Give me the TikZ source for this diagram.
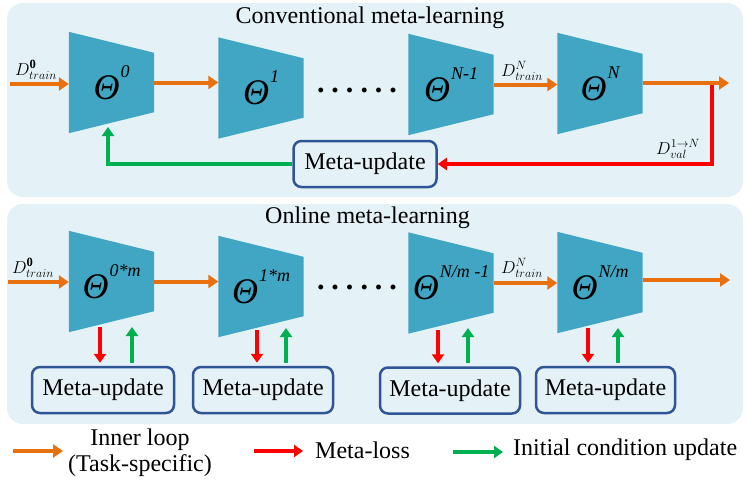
\documentclass[tikz,border=0pt]{standalone}
\usepackage{fontspec}
\setmainfont{Liberation Serif}
\usetikzlibrary{arrows.meta,calc}
\definecolor{panelc}{HTML}{E4F1F6}
\definecolor{trapc}{HTML}{41A6C4}
\definecolor{orar}{HTML}{E8700F}
\definecolor{redar}{HTML}{FF0000}
\definecolor{grar}{HTML}{00B050}
\definecolor{boxb}{HTML}{2F5597}
\pgfdeclarelayer{panellayer}
\pgfdeclarelayer{shapelayer}
\pgfsetlayers{panellayer,shapelayer,main}
\newcommand{\Th}[1]{{\fontsize{36}{36}\selectfont\itshape Θ\kern1pt\raisebox{22pt}{\fontsize{18}{18}\selectfont #1}}}
\newcommand{\trapfill}[1]{\begin{pgfonlayer}{shapelayer}\fill[trapc] (#1.north west) -- ([yshift=-21pt]#1.north east) -- ([yshift=21pt]#1.south east) -- (#1.south west) -- cycle;\end{pgfonlayer}}
\tikzset{
  trapbox/.style={minimum width=85pt, minimum height=101pt, inner sep=0pt},
  orarr/.style={draw=orar, line width=4pt, -{Triangle[length=10pt,width=13pt]}},
  redarr/.style={draw=redar, line width=3.5pt, -{Triangle[length=9pt,width=12pt]}},
  grarr/.style={draw=grar, line width=3.5pt, -{Triangle[length=9pt,width=12pt]}},
  mubox/.style={draw=boxb, line width=2.5pt, rounded corners=8pt, fill=panelc, minimum height=46pt, inner sep=0pt, font=\fontsize{24}{24}\selectfont},
  titletxt/.style={anchor=base, font=\fontsize{24}{24}\selectfont},
  dlab/.style={font=\fontsize{18}{18}\selectfont, inner sep=0pt},
  dots/.style={anchor=base, font=\fontsize{30}{30}\selectfont\bfseries, inner sep=0pt},
  legtxt/.style={font=\fontsize{24}{26}\selectfont, inner sep=0pt}
}
\begin{document}
\begin{tikzpicture}[x=1pt,y=-1pt]
\useasboundingbox (0,0) rectangle (749,483);
\begin{pgfonlayer}{panellayer}
\fill[panelc, rounded corners=16pt] (7,3) rectangle (743,197);
\fill[panelc, rounded corners=16pt] (7,204) rectangle (743,424);
\end{pgfonlayer}

% ---------- Conventional meta-learning ----------
\node[titletxt] (title1) at (370,23) {Conventional meta-learning};
\node[trapbox] (t0) at (111.5,82.5) {\Th{0}};
\node[trapbox] (t1) at (261,88) {\Th{1}};
\node[trapbox] (tn1) at (451,84.5) {\Th{N-1}};
\node[trapbox] (tn) at (600,83.5) {\Th{N}};
\trapfill{t0}\trapfill{t1}\trapfill{tn1}\trapfill{tn}
\node[dots] (dots1) at (357,92) {.\kern7pt.\kern7pt.\kern7pt.\kern7pt.\kern7pt.};

\node[mubox, minimum width=143pt] (mu0) at (365,164) {Meta-update};

\coordinate (in0) at (10,84);
\coordinate (out0) at (729,83);
\coordinate (sp) at (712,83);
\coordinate (gt) at (108,127);
\draw[redarr] (sp) -- (sp |- mu0.east) -- (mu0.east);
\draw[grarr] (mu0.west) -| (gt);
\draw[orarr] (in0) -- (in0 -| t0.west);
\draw[orarr] (t0.east) -- (t0.east -| t1.west);
\draw[orarr] (tn1.east) -- (tn1.east -| tn.west);
\draw[orarr] (tn.east |- out0) -- (out0);
\node[dlab] (d0) at (36,70) {$D^{\mathbf{0}}_{train}$};
\node[dlab] (dn) at (522,71) {$D^{N}_{train}$};
\node[dlab] (dv) at (678,149) {$D^{1\to N}_{val}$};

% ---------- Online meta-learning ----------
\node[titletxt] (title2) at (367.5,223) {Online meta-learning};
\node[trapbox] (m0) at (111.5,281.5) {\Th{0*m}};
\node[trapbox] (m1) at (261,286.5) {\Th{1*m}};
\node[trapbox] (mn1) at (451,283) {\Th{N/m -1}};
\node[trapbox] (mn) at (600,282.5) {\Th{N/m}};
\trapfill{m0}\trapfill{m1}\trapfill{mn1}\trapfill{mn}
\node[dots] (dots2) at (357,289) {.\kern7pt.\kern7pt.\kern7pt.\kern7pt.\kern7pt.};

\node[mubox, minimum width=142pt] (mu1) at (103,390) {Meta-update};
\node[mubox, minimum width=140pt] (mu2) at (263,390) {Meta-update};
\node[mubox, minimum width=140pt] (mu3) at (450,390.5) {Meta-update};
\node[mubox, minimum width=139pt] (mu4) at (605.5,390) {Meta-update};

\coordinate (in1) at (8,282);
\coordinate (out1) at (730,280);
\draw[orarr] (in1) -- (in1 -| m0.west);
\draw[orarr] (m0.east) -- (m0.east -| m1.west);
\draw[orarr] (mn1.east) -- (mn1.east -| mn.west);
\draw[orarr] (mn.east |- out1) -- (out1);
\node[dlab] (d0b) at (33,268) {$D^{\mathbf{0}}_{train}$};
\node[dlab] (dnb) at (522,268) {$D^{N}_{train}$};

\coordinate (r1) at (100,327);
\coordinate (g1) at (132,327);
\coordinate (r2) at (257,330);
\coordinate (g2) at (286,328);
\coordinate (r3) at (438,330);
\coordinate (g3) at (468,328);
\coordinate (r4) at (588,328);
\coordinate (g4) at (618,328);
\draw[redarr, shorten >=3pt] (r1) -- (r1 |- mu1.north);
\draw[grarr, shorten <=3pt] (g1 |- mu1.north) -- (g1);
\draw[redarr, shorten >=3pt] (r2) -- (r2 |- mu2.north);
\draw[grarr, shorten <=3pt] (g2 |- mu2.north) -- (g2);
\draw[redarr, shorten >=3pt] (r3) -- (r3 |- mu3.north);
\draw[grarr, shorten <=3pt] (g3 |- mu3.north) -- (g3);
\draw[redarr, shorten >=3pt] (r4) -- (r4 |- mu4.north);
\draw[grarr, shorten <=3pt] (g4 |- mu4.north) -- (g4);

% ---------- Legend ----------
\coordinate (lo1) at (13,451);
\coordinate (lo2) at (63,451);
\coordinate (lr1) at (254,451);
\coordinate (lr2) at (303,451);
\coordinate (lg1) at (453,452);
\coordinate (lg2) at (503,452);
\draw[orarr] (lo1) -- (lo2);
\draw[redarr] (lr1) -- (lr2);
\draw[grarr] (lg1) -- (lg2);
\node[legtxt, align=center] (leg1) at (140,453) {Inner loop\\(Task-specific)};
\node[legtxt, anchor=west] (leg2) at (315,450) {Meta-loss};
\node[legtxt, anchor=west] (leg3) at (513,450) {Initial condition update};
\end{tikzpicture}
\end{document}
